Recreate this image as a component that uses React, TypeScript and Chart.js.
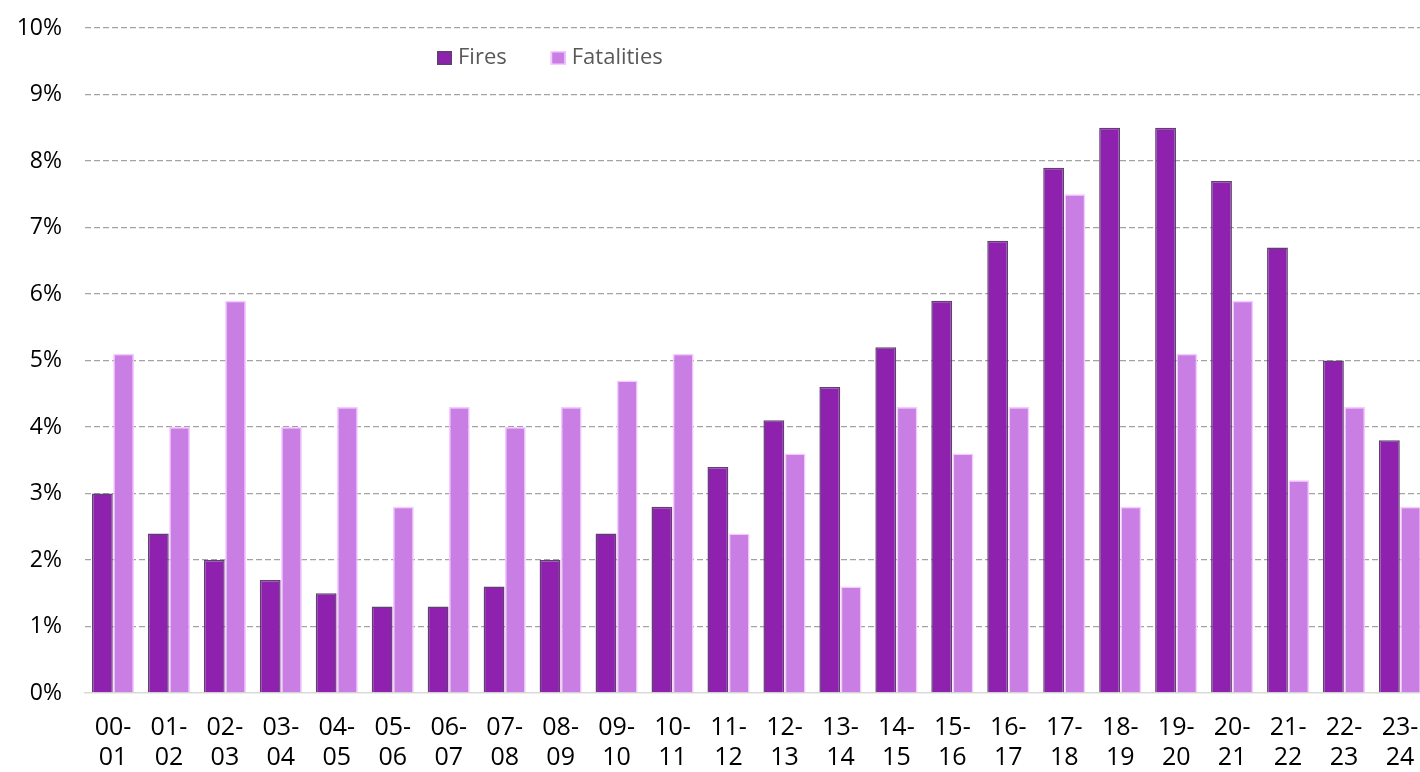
import React, { useEffect, useRef } from "react";
import { Chart, registerables } from "chart.js";

Chart.register(...registerables);

const categories: string[][] = [
  ["00-", "01"], ["01-", "02"], ["02-", "03"], ["03-", "04"], ["04-", "05"], ["05-", "06"],
  ["06-", "07"], ["07-", "08"], ["08-", "09"], ["09-", "10"], ["10-", "11"], ["11-", "12"],
  ["12-", "13"], ["13-", "14"], ["14-", "15"], ["15-", "16"], ["16-", "17"], ["17-", "18"],
  ["18-", "19"], ["19-", "20"], ["20-", "21"], ["21-", "22"], ["22-", "23"], ["23-", "24"],
];

const fires: number[] = [
  3.0, 2.4, 2.0, 1.7, 1.5, 1.3, 1.3, 1.6, 2.0, 2.4, 2.8, 3.4,
  4.1, 4.6, 5.2, 5.9, 6.8, 7.9, 8.5, 8.5, 7.7, 6.7, 5.0, 3.8,
];

const fatalities: number[] = [
  5.1, 4.0, 5.9, 4.0, 4.3, 2.8, 4.3, 4.0, 4.3, 4.7, 5.1, 2.4,
  3.6, 1.6, 4.3, 3.6, 4.3, 7.5, 2.8, 5.1, 5.9, 3.2, 4.3, 2.8,
];

const seriesNames: string[] = ["Fires", "Fatalities"];
const yTicks: number[] = [0, 1, 2, 3, 4, 5, 6, 7, 8, 9, 10];

const FONT = "'Open Sans', 'Noto Sans', sans-serif";

const legendPlugin = {
  id: "customLegend",
  afterDraw(chart: any) {
    const ctx = chart.ctx;
    ctx.save();
    ctx.font = `22px ${FONT}`;
    ctx.textBaseline = "middle";
    let x = 437;
    const cy = 58;
    chart.data.datasets.forEach((ds: any) => {
      ctx.fillStyle = ds.backgroundColor;
      ctx.fillRect(x, cy - 7, 15, 14);
      ctx.lineWidth = 1.5;
      ctx.strokeStyle = ds.borderColor;
      ctx.strokeRect(x + 0.75, cy - 6.25, 13.5, 12.5);
      ctx.fillStyle = "#595959";
      ctx.textAlign = "left";
      ctx.fillText(ds.label, x + 21, cy);
      x += 21 + ctx.measureText(ds.label).width + 44;
    });
    ctx.restore();
  },
};

export default function App() {
  const ref = useRef<HTMLCanvasElement>(null);
  useEffect(() => {
    document.body.style.margin = "0";
    const chart = new Chart(ref.current!, {
      type: "bar",
      data: {
        labels: categories,
        datasets: [
          {
            label: seriesNames[0],
            data: fires,
            backgroundColor: "#8e22ae",
            borderColor: "#5e4072",
            borderWidth: 1.5,
            categoryPercentage: 0.76,
            barPercentage: 0.98,
          },
          {
            label: seriesNames[1],
            data: fatalities,
            backgroundColor: "#c97ee4",
            borderColor: "#f6c9ff",
            borderWidth: 1.5,
            categoryPercentage: 0.76,
            barPercentage: 0.98,
          },
        ],
      },
      options: {
        responsive: false,
        animation: false,
        devicePixelRatio: 1,
        layout: { padding: { top: 28, right: 0, bottom: 0, left: 0 } },
        plugins: {
          legend: { display: false },
          tooltip: { enabled: false },
        },
        scales: {
          x: {
            grid: { display: false, drawTicks: false },
            border: { display: true, color: "#d9d9d9", width: 1.5 },
            ticks: {
              autoSkip: false,
              maxRotation: 0,
              minRotation: 0,
              color: "#000000",
              padding: 20,
              font: { family: FONT, size: 25, lineHeight: 1.2 },
            },
            afterFit(scale: any) {
              scale.height = 79;
              scale.paddingLeft = 0;
              scale.paddingRight = 0;
            },
          },
          y: {
            min: 0,
            max: 10,
            afterBuildTicks(scale: any) {
              scale.ticks = yTicks.map((v) => ({ value: v }));
            },
            grid: {
              drawTicks: false,
              color: (c: any) => (c.tick && c.tick.value === 0 ? "rgba(0,0,0,0)" : "#a3a3a3"),
              lineWidth: 1.3,
            },
            border: { display: false, dash: [6, 3] },
            ticks: {
              color: "#000000",
              padding: 23,
              font: { family: FONT, size: 23 },
              callback: (v: any) => `${v}%`,
            },
            afterFit(scale: any) {
              scale.width = 85;
              scale.paddingTop = 0;
              scale.paddingBottom = 0;
            },
          },
        },
      },
      plugins: [legendPlugin],
    });
    return () => chart.destroy();
  }, []);
  return (
    <div style={{ width: 1420, height: 772, overflow: "hidden" }}>
      <canvas ref={ref} width={1428} height={772} style={{ width: 1428, height: 772, display: "block" }} />
    </div>
  );
}
